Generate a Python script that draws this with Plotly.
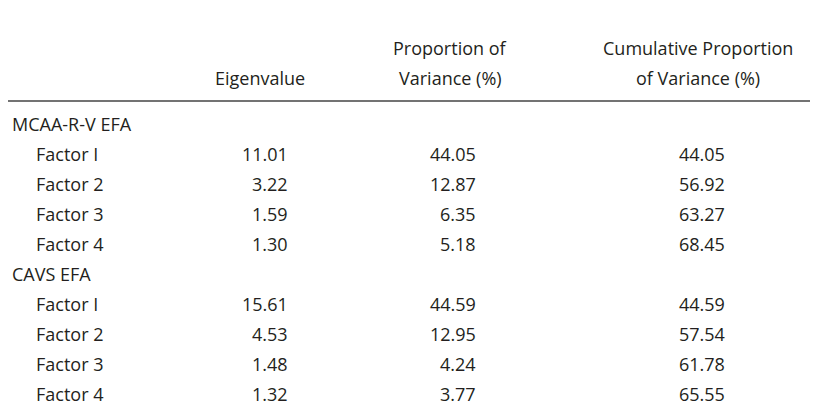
import plotly.graph_objects as go

groups = ["MCAA-R-V EFA", "CAVS EFA"]
factors = ["Factor I", "Factor 2", "Factor 3", "Factor 4"]
eigen = [["11.01", "3.22", "1.59", "1.30"], ["15.61", "4.53", "1.48", "1.32"]]
prop = [["44.05", "12.87", "6.35", "5.18"], ["44.59", "12.95", "4.24", "3.77"]]
cum = [["44.05", "56.92", "63.27", "68.45"], ["44.59", "57.54", "61.78", "65.55"]]
headers = [("Eigenvalue",), ("Proportion of", "Variance (%)"), ("Cumulative Proportion", "of Variance (%)")]

FONT = dict(family="Open Sans, sans-serif", size=18, color="#231f20")
OX, OY = -8, -8  # compensate page body margin
fig = go.Figure()
ann = []
hx = [260, 450, 698]
for x, h in zip(hx, headers):
    lines = h if len(h) == 2 else ("",) + h
    for i, t in enumerate(lines):
        if t:
            ann.append(dict(x=x + OX, y=48 + 30 * i + OY, text=t, xanchor="center"))
y = 124
colx = [290, 478, 727]
for g in range(2):
    ann.append(dict(x=10 + OX, y=y + OY, text=groups[g], xanchor="left"))
    y += 30
    for r in range(4):
        ann.append(dict(x=34 + OX, y=y + OY, text=factors[r], xanchor="left"))
        for cx, vals in zip(colx, (eigen, prop, cum)):
            ann.append(dict(x=cx + OX, y=y + OY, text=vals[g][r], xanchor="right"))
        y += 30
for a in ann:
    a.update(xref="x", yref="y", showarrow=False, yanchor="middle", font=FONT)
fig.update_layout(
    width=820, height=413, margin=dict(l=0, r=0, t=0, b=0),
    paper_bgcolor="white", plot_bgcolor="white", annotations=ann,
    xaxis=dict(range=[0, 820], visible=False, fixedrange=True),
    yaxis=dict(range=[413, 0], visible=False, fixedrange=True),
    shapes=[dict(type="line", x0=0, x1=810 + OX, y0=101 + OY, y1=101 + OY, xref="x", yref="y",
                 line=dict(color="#444", width=1.5))],
    showlegend=False,
)
fig.write_html("out.html")
